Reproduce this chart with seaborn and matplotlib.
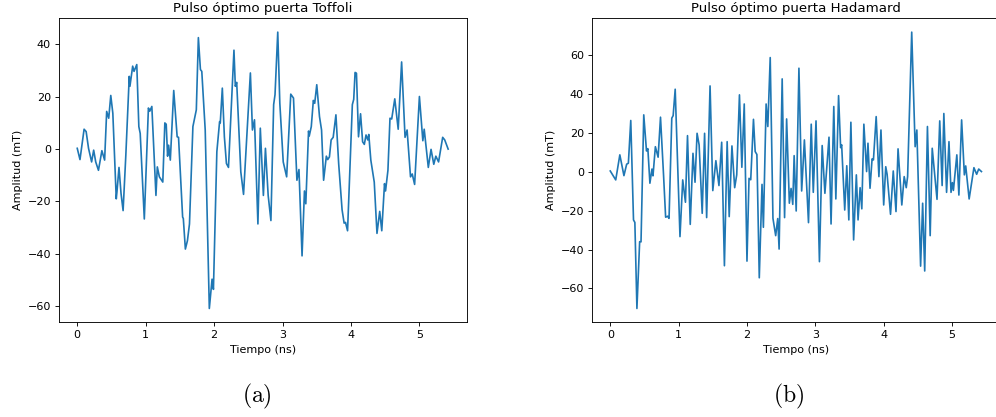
import numpy as np
import pandas as pd
import matplotlib
matplotlib.use("Agg")
import matplotlib.pyplot as plt
import seaborn as sns

# ---- data ----
toffoli_t = [0.00, 0.04, 0.10, 0.13, 0.165, 0.21, 0.24, 0.27, 0.31, 0.36, 0.40, 0.43, 0.46, 0.49, 0.52,
             0.57, 0.58, 0.61, 0.64, 0.67, 0.71, 0.76, 0.77, 0.81, 0.83, 0.87, 0.90, 0.92, 0.98, 1.04,
             1.06, 1.09, 1.15, 1.17, 1.20, 1.25, 1.28, 1.30, 1.32, 1.335, 1.36, 1.41, 1.46, 1.48, 1.54,
             1.55, 1.58, 1.61, 1.64, 1.69, 1.72, 1.74, 1.77, 1.80, 1.82, 1.87, 1.93, 1.97, 1.99, 2.04,
             2.08, 2.09, 2.12, 2.15, 2.18, 2.21, 2.29, 2.31, 2.33, 2.39, 2.43, 2.53, 2.56, 2.59, 2.64,
             2.675, 2.72, 2.75, 2.79, 2.83, 2.87, 2.89, 2.93, 2.96, 3.01, 3.06, 3.12, 3.16, 3.21, 3.24,
             3.285, 3.32, 3.34, 3.38, 3.39, 3.42, 3.45, 3.47, 3.50, 3.54, 3.57, 3.60, 3.64, 3.66, 3.685,
             3.71, 3.74, 3.78, 3.82, 3.87, 3.90, 3.92, 3.95, 4.02, 4.04, 4.06, 4.08, 4.11, 4.14, 4.17,
             4.195, 4.22, 4.245, 4.26, 4.29, 4.34, 4.38, 4.42, 4.45, 4.49, 4.505, 4.54, 4.57, 4.595, 4.64,
             4.69, 4.74, 4.79, 4.82, 4.87, 4.895, 4.93, 5.00, 5.05, 5.07, 5.13, 5.17, 5.21, 5.24, 5.28,
             5.34, 5.37, 5.42]
toffoli_v = [0.3, -4.0, 7.6, 6.7, 0.3, -4.9, -0.4, -4.9, -8.1, -0.6, -4.2, 14.4, 11.8, 20.5, 13.7,
             -19.0, -16.4, -7.0, -17.0, -23.5, -2.3, 27.8, 24.0, 31.7, 29.7, 32.3, 8.6, 6.0, -26.7, 15.7,
             14.5, 16.3, -17.7, -6.8, -10.6, -12.6, 10.0, 9.5, -2.7, 1.5, -4.2, 22.4, 4.7, 4.5, -26.0,
             -26.5, -38.2, -35.0, -28.6, 8.6, 12.4, 15.0, 42.6, 30.4, 29.7, 7.3, -60.9, -49.7, -53.6, -1.0,
             10.5, 10.0, 23.3, 4.7, -5.5, -7.0, 37.8, 24.0, 25.5, -8.7, -17.3, 29.1, 7.3, 11.2, -28.6,
             8.0, -17.7, 0.3, -17.7, -27.3, 17.0, 20.8, 44.7, 17.6, -4.9, -10.6, 21.0, 19.5, -11.9, -7.8,
             -40.8, -16.0, -20.9, 6.9, 5.0, 8.6, 18.6, 17.5, 24.6, 12.4, 7.3, -11.9, -2.7, -4.0, -3.0,
             3.5, 4.5, 13.1, -5.5, -23.2, -28.3, -28.0, -31.2, 17.0, 19.0, 29.3, 29.0, 4.7, 13.5, 2.8,
             1.8, 5.4, 3.5, 5.6, -4.2, -12.6, -32.2, -23.8, -31.2, -13.2, -16.0, -8.1, 11.8, 11.5, 19.2,
             7.6, 33.3, 4.5, 7.3, -10.6, -9.5, -13.5, 20.1, 3.2, 7.6, -7.0, -0.1, -5.8, -2.7, -4.9,
             4.5, 3.5, 0.0]

hadamard_t = [0.00, 0.08, 0.14, 0.20, 0.24, 0.265, 0.30, 0.34, 0.36, 0.39, 0.43, 0.45, 0.49, 0.53, 0.55,
              0.58, 0.61, 0.625, 0.66, 0.70, 0.735, 0.78, 0.81, 0.84, 0.86, 0.90, 0.92, 0.95, 1.02, 1.06,
              1.10, 1.13, 1.17, 1.21, 1.24, 1.27, 1.30, 1.345, 1.38, 1.41, 1.46, 1.50, 1.545, 1.59, 1.63,
              1.67, 1.71, 1.74, 1.78, 1.82, 1.85, 1.89, 1.925, 1.96, 2.00, 2.03, 2.055, 2.095, 2.12, 2.145,
              2.18, 2.22, 2.24, 2.28, 2.305, 2.34, 2.38, 2.42, 2.45, 2.47, 2.515, 2.55, 2.58, 2.62, 2.645,
              2.67, 2.69, 2.72, 2.76, 2.80, 2.84, 2.90, 2.94, 2.97, 3.01, 3.06, 3.10, 3.14, 3.20, 3.23,
              3.27, 3.30, 3.34, 3.37, 3.385, 3.43, 3.46, 3.49, 3.52, 3.56, 3.60, 3.625, 3.655, 3.68, 3.71,
              3.75, 3.77, 3.80, 3.83, 3.85, 3.89, 3.93, 3.96, 4.00, 4.03, 4.05, 4.10, 4.14, 4.18, 4.21,
              4.265, 4.30, 4.33, 4.35, 4.41, 4.46, 4.485, 4.54, 4.57, 4.60, 4.64, 4.68, 4.71, 4.78, 4.82,
              4.855, 4.88, 4.92, 4.955, 4.985, 5.005, 5.02, 5.07, 5.10, 5.14, 5.18, 5.20, 5.25, 5.32, 5.36,
              5.39, 5.43]
hadamard_v = [0.5, -4.1, 8.8, -1.9, 4.0, 4.5, 26.5, -24.7, -26.0, -70.3, -35.9, -36.0, 29.4, 10.8, 12.0,
              -5.8, 1.5, -2.0, 13.0, 7.6, 28.2, -1.9, -23.3, -22.8, -23.9, 27.7, 29.0, 42.6, -33.3, -4.1,
              -15.6, 18.7, -27.0, 9.6, -5.3, 19.9, 13.9, -21.3, 19.9, -23.5, 44.3, -9.6, 5.8, -7.0, 15.3,
              -48.3, 15.6, -23.0, 13.4, -8.1, -1.5, 39.7, 2.4, 35.0, -45.9, -3.3, -4.0, 27.1, 10.5, 9.0,
              -54.5, -6.4, -28.5, 35.0, 23.4, 58.9, -23.9, -32.8, -24.0, -39.7, 47.9, -23.5, 27.3, -16.1, -8.5,
              -16.7, 8.4, -20.1, 53.4, -9.8, 16.5, -26.1, 24.6, -10.5, 26.3, -46.2, 13.6, -11.0, 17.9, -26.8,
              33.7, -13.9, 39.3, 12.5, 14.0, -19.6, 3.2, -24.7, 25.6, -35.0, -1.5, -24.7, -8.1, -19.0, 24.6,
              0.2, 14.8, -8.4, 6.7, 6.2, 28.5, -2.4, 21.6, -17.0, 2.7, -1.2, -21.8, 0.5, -20.4, 11.9,
              -17.0, -2.4, -8.1, -2.4, 72.0, 13.0, 21.6, -48.5, -16.1, -51.0, 23.4, -32.8, 12.2, -14.1, 26.3,
              -7.0, 30.1, -10.5, 15.6, -10.5, -5.5, -9.5, 8.8, -11.9, 26.8, -1.5, 3.1, -13.9, 2.2, -1.2,
              1.5, 0.2]

titles = ["Pulso óptimo puerta Toffoli", "Pulso óptimo puerta Hadamard"]
xlabel = "Tiempo (ns)"
ylabel = "Amplitud (mT)"
panel_labels = ["(a)", "(b)"]

# ---- styling ----
plt.rcParams.update({
    "font.family": ["DejaVu Sans"],
    "mathtext.fontset": "cm",
    "font.size": 8,
    "axes.titlesize": 9.6,
    "axes.labelsize": 8,
    "xtick.labelsize": 8,
    "ytick.labelsize": 8,
    "axes.linewidth": 0.64,
    "xtick.major.width": 0.64,
    "ytick.major.width": 0.64,
    "xtick.major.size": 2.8,
    "ytick.major.size": 2.8,
    "xtick.major.pad": 2.8,
    "ytick.major.pad": 2.8,
    "axes.labelpad": 3.2,
    "axes.titlepad": 4.8,
})

W, H = 996, 417
fig = plt.figure(figsize=(W / 100, H / 100), dpi=100)

def ax_rect(l, t, r, b):
    return [l / W, 1 - b / H, (r - l) / W, (b - t) / H]

ax1 = fig.add_axes(ax_rect(58.7, 18.3, 466.7, 322.3))
ax2 = fig.add_axes(ax_rect(591.7, 18.3, 1000.0, 322.3))

df1 = pd.DataFrame({"t": toffoli_t, "v": toffoli_v})
df2 = pd.DataFrame({"t": hadamard_t, "v": hadamard_v})

for ax, df, title in [(ax1, df1, titles[0]), (ax2, df2, titles[1])]:
    sns.lineplot(data=df, x="t", y="v", ax=ax, color="#1f77b4", linewidth=1.2,
                 sort=False, estimator=None)
    ax.set_title(title)
    ax.set_xlabel(xlabel)
    ax.set_ylabel(ylabel)
    ax.set_xticks([0, 1, 2, 3, 4, 5])

ax1.set_yticks([-60, -40, -20, 0, 20, 40])
ax2.set_yticks([-60, -40, -20, 0, 20, 40, 60])

fig.text(257 / W, 1 - 396 / H, r"$\mathrm{(a)}$", ha="center", va="center", fontsize=17)
fig.text(789 / W, 1 - 396 / H, r"$\mathrm{(b)}$", ha="center", va="center", fontsize=17)

fig.savefig("out.png", dpi=100)
